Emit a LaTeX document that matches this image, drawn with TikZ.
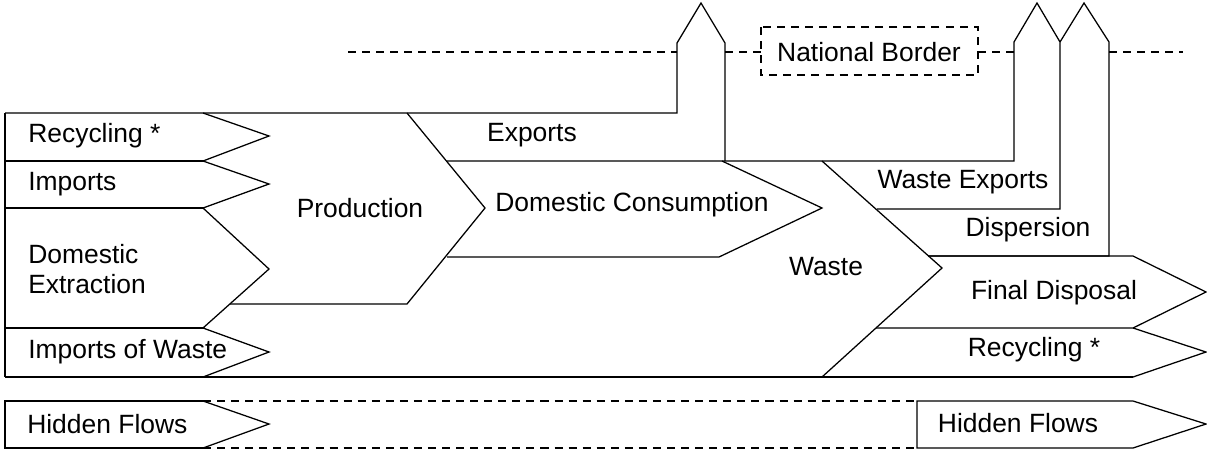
\documentclass[tikz,border=0pt]{standalone}
\usepackage{fontspec}
\setmainfont{Liberation Sans}
\usepackage{tikz}
\usetikzlibrary{positioning}

\begin{document}
\begin{tikzpicture}[x=0.025cm,y=-0.025cm,
    flow/.style={line width=0.9pt},
    natborder/.style={line width=0.9pt,dash pattern=on 5.7pt off 4.3pt},
    lbl/.style={font=\fontsize{18.8pt}{21.5pt}\selectfont,inner sep=0pt}]
  \useasboundingbox (0,0) rectangle (1207,450);

  % inflows
  \draw[flow] (5,113) -- (5,377);
  \draw[flow] (5,161) -- (203,161) (5,208) -- (203,208) (5,328) -- (203,328);
  \draw[flow] (203,113) -- (269,136) -- (203,161) -- (269,184) -- (203,208)
    -- (269,269) -- (203,328) -- (269,352) -- (203,377);

  % production and exports
  \draw[flow] (5,113) -- (677,113) -- (677,43) -- (701,3) -- (725,43) -- (725,161);
  \draw[flow] (407,113) -- (485,208) -- (407,304) -- (230,304);

  % domestic consumption
  \draw[flow] (447,161) -- (1014,161) -- (1014,42) -- (1037,3) -- (1060,42)
    -- (1060,209) -- (877,209);
  \draw[flow] (722,161) -- (822,208) -- (719,257) -- (447,257);

  % waste
  \draw[flow] (822,161) -- (942,268) -- (822,377);
  \draw[flow] (1060,42) -- (1084,3) -- (1109,42) -- (1109,256) -- (928,256);
  \draw[flow] (928,256) -- (1133,256) -- (1206,292) -- (1133,328) -- (876,328);
  \draw[flow] (1133,328) -- (1206,352) -- (1133,377);
  \draw[flow] (5,377) -- (1133,377);

  % hidden flows
  \draw[flow] (203,401) -- (5,401) -- (5,448) -- (203,448);
  \draw[flow] (203,401) -- (269,424) -- (203,448);
  \draw[natborder] (203,401) -- (917,401) (203,448) -- (917,448);
  \draw[flow] (917,401) -- (1133,401) -- (1206,424) -- (1133,448) -- (917,448) -- cycle;

  % national border
  \draw[natborder] (348,52) -- (677,52) (725,52) -- (761,52)
    (978,52) -- (1014,52) (1109,52) -- (1183,52);
  \draw[natborder] (761,27) rectangle (978,75);

  \node[lbl,anchor=west] (recyc) at (28,136) {Recycling *};
  \node[lbl,anchor=west] (imp) at (28,184) {Imports};
  \node[lbl,anchor=west,align=left] (domext) at (28,269) {Domestic\\Extraction};
  \node[lbl,anchor=west] (impwaste) at (28,352) {Imports of Waste};
  \node[lbl] (prod) at (360,208) {Production};
  \node[lbl] (exp) at (532,135) {Exports};
  \node[lbl] (domcons) at (632,205) {Domestic Consumption};
  \node[lbl] (waste) at (826,267) {Waste};
  \node[lbl] (natb) at (869,52) {National Border};
  \node[lbl] (wasteexp) at (963,182) {Waste Exports};
  \node[lbl] (disp) at (1028,230) {Dispersion};
  \node[lbl] (findisp) at (1054,293) {Final Disposal};
  \node[lbl] (recycout) at (1034,350) {Recycling *};
  \node[lbl,anchor=west] (hidin) at (27,424) {Hidden Flows};
  \node[lbl] (hidout) at (1018,423) {Hidden Flows};
\end{tikzpicture}
\end{document}
